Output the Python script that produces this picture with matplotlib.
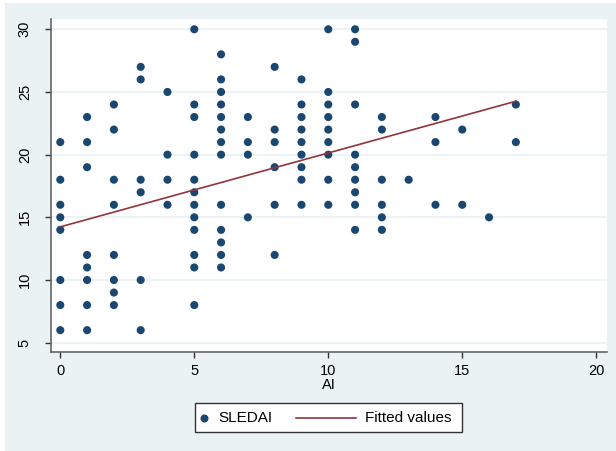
import matplotlib
matplotlib.use("Agg")
import matplotlib.pyplot as plt
from matplotlib.patches import Rectangle
from matplotlib.lines import Line2D
import numpy as np

plt.rcParams['font.family'] = ['Liberation Sans', 'DejaVu Sans']

# AI value -> list of SLEDAI values observed
ai_levels = [0, 1, 2, 3, 4, 5, 6, 7, 8, 9, 10, 11, 12, 13, 14, 15, 16, 17]
sledai_0 = [21, 18, 16, 15, 14, 10, 8, 6]
sledai_1 = [23, 21, 19, 12, 11, 10, 8, 6]
sledai_2 = [24, 22, 18, 16, 12, 10, 9, 8]
sledai_3 = [27, 26, 18, 17, 10, 6]
sledai_4 = [25, 20, 18, 16]
sledai_5 = [30, 24, 23, 20, 18, 17, 16, 15, 14, 12, 11, 8]
sledai_6 = [28, 26, 25, 24, 23, 22, 21, 20, 16, 14, 13, 12, 11]
sledai_7 = [23, 21, 20, 15]
sledai_8 = [27, 22, 21, 19, 16, 12]
sledai_9 = [26, 24, 23, 22, 21, 20, 19, 18, 16]
sledai_10 = [30, 25, 24, 23, 22, 21, 20, 18, 16]
sledai_11 = [30, 29, 24, 20, 19, 18, 17, 16, 14]
sledai_12 = [23, 22, 18, 16, 15, 14]
sledai_13 = [18]
sledai_14 = [23, 21, 16]
sledai_15 = [22, 16]
sledai_16 = [15]
sledai_17 = [24, 21]
sledai_by_ai = [sledai_0, sledai_1, sledai_2, sledai_3, sledai_4, sledai_5,
                sledai_6, sledai_7, sledai_8, sledai_9, sledai_10, sledai_11,
                sledai_12, sledai_13, sledai_14, sledai_15, sledai_16, sledai_17]

fit_x = [0, 17]
fit_y = [14.24, 24.26]

x_ticks = [0, 5, 10, 15, 20]
y_ticks = [5, 10, 15, 20, 25, 30]

xs = []
ys = []
for a, vals in zip(ai_levels, sledai_by_ai):
    for v in vals:
        xs.append(a)
        ys.append(v)

W, H = 616, 451
fig = plt.figure(figsize=(W / 100, H / 100), dpi=100, facecolor='white')

def fx(px):
    return px / W

def fy(py):
    return (H - py) / H

# Stata-like graph region
fig.patches.append(Rectangle((fx(5), 0), 1 - fx(5), fy(3), transform=fig.transFigure,
                             facecolor='#EAF2F3', edgecolor='none', zorder=-10))

ax = fig.add_axes([fx(50.7), fy(351.7), fx(606.7) - fx(50.7), fy(19) - fy(351.7)])
ax.set_facecolor('white')

ax.set_xlim(-0.358, 20.39)
ax.set_ylim(4.282, 30.82)

for yt in y_ticks:
    ax.axhline(yt, color='#EAF2F3', lw=1.3, zorder=0)

ax.scatter(xs, ys, s=34, color='#1a476f', edgecolors='none', zorder=3)
ax.plot(fit_x, fit_y, color='#90353b', lw=1.2, zorder=4)

for s in ['top', 'right']:
    ax.spines[s].set_visible(False)
for s in ['left', 'bottom']:
    ax.spines[s].set_color('#5a5a5a')
    ax.spines[s].set_linewidth(1.1)

ax.set_xticks(x_ticks)
ax.set_yticks(y_ticks)
ax.tick_params(axis='both', direction='out', length=4.5, width=1.0, color='#333333',
               labelsize=10.5, labelcolor='black')
ax.tick_params(axis='x', pad=4)
ax.tick_params(axis='y', pad=9)
for lab in ax.get_yticklabels():
    lab.set_rotation(90)
    lab.set_va('center')

ax.set_xlabel('AI', fontsize=10.5, labelpad=0.5)

# Legend (Stata style)
fig.patches.append(Rectangle((fx(195), fy(432)), fx(462) - fx(195), fy(403) - fy(432),
                             transform=fig.transFigure, facecolor='white',
                             edgecolor='#333333', lw=1.0, zorder=5))
ly = fy(417.5)
fig.lines.append(Line2D([fx(204)], [ly], marker='o', markersize=5.8, color='#1a476f',
                        markeredgewidth=0, linestyle='none', transform=fig.transFigure, zorder=6))
fig.text(fx(218), ly, 'SLEDAI', fontsize=11, va='center', ha='left', zorder=6)
fig.lines.append(Line2D([fx(296), fx(356)], [ly, ly], color='#90353b', lw=1.2,
                        transform=fig.transFigure, zorder=6))
fig.text(fx(365), ly, 'Fitted values', fontsize=11, va='center', ha='left', zorder=6)

fig.savefig('out.png', dpi=100, facecolor=fig.get_facecolor())
